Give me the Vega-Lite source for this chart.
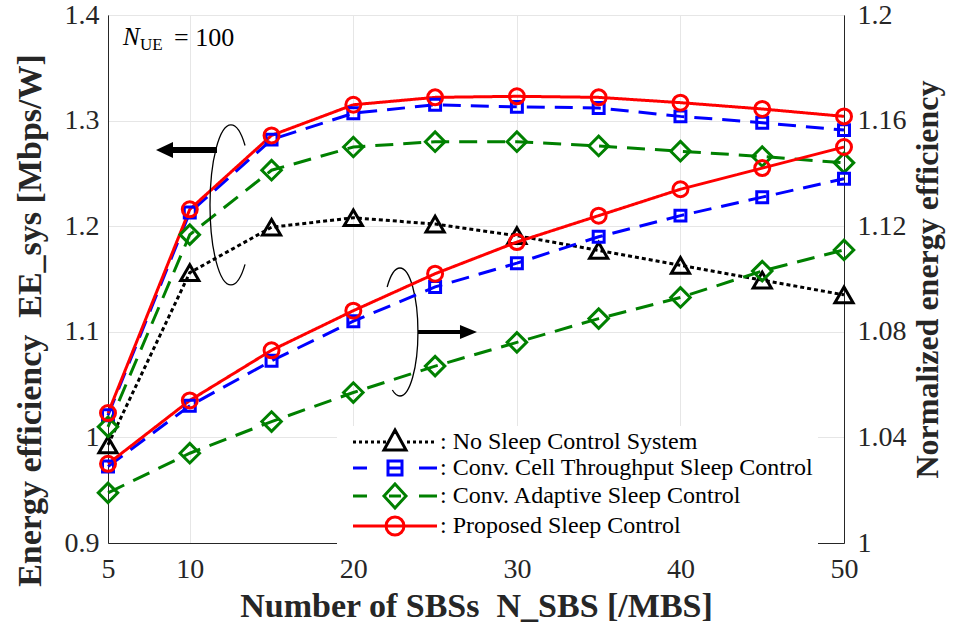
{
  "$schema": "https://vega.github.io/schema/vega-lite/v6.json",
  "width": 736,
  "height": 528,
  "autosize": "none",
  "padding": {"left": 108, "top": 15, "right": 111, "bottom": 97},
  "background": "white",
  "config": {
    "font": "Liberation Serif",
    "view": {"stroke": "#262626", "strokeWidth": 1},
    "axis": {
      "labelFont": "Liberation Serif", "labelFontSize": 28, "labelColor": "#262626",
      "titleFont": "Liberation Serif", "titleFontSize": 32, "titleFontWeight": "bold", "titleColor": "#262626",
      "domainColor": "#262626", "tickColor": "#262626", "gridColor": "#e6e6e6", "labelFlush": false, "ticks": false
    }
  },
  "data": {"values": [
    {"x": 5, "series": "No Sleep Control System", "ee": 0.993, "ne": null},
    {"x": 10, "series": "No Sleep Control System", "ee": 1.156, "ne": null},
    {"x": 15, "series": "No Sleep Control System", "ee": 1.199, "ne": null},
    {"x": 20, "series": "No Sleep Control System", "ee": 1.208, "ne": null},
    {"x": 25, "series": "No Sleep Control System", "ee": 1.202, "ne": null},
    {"x": 30, "series": "No Sleep Control System", "ee": 1.191, "ne": null},
    {"x": 35, "series": "No Sleep Control System", "ee": 1.177, "ne": null},
    {"x": 40, "series": "No Sleep Control System", "ee": 1.163, "ne": null},
    {"x": 45, "series": "No Sleep Control System", "ee": 1.149, "ne": null},
    {"x": 50, "series": "No Sleep Control System", "ee": 1.135, "ne": null},
    {"x": 5, "series": "Conv. Cell Throughput Sleep Control", "ee": 1.021, "ne": 1.029},
    {"x": 10, "series": "Conv. Cell Throughput Sleep Control", "ee": 1.213, "ne": 1.052},
    {"x": 15, "series": "Conv. Cell Throughput Sleep Control", "ee": 1.282, "ne": 1.069},
    {"x": 20, "series": "Conv. Cell Throughput Sleep Control", "ee": 1.307, "ne": 1.084},
    {"x": 25, "series": "Conv. Cell Throughput Sleep Control", "ee": 1.315, "ne": 1.097},
    {"x": 30, "series": "Conv. Cell Throughput Sleep Control", "ee": 1.313, "ne": 1.106},
    {"x": 35, "series": "Conv. Cell Throughput Sleep Control", "ee": 1.312, "ne": 1.116},
    {"x": 40, "series": "Conv. Cell Throughput Sleep Control", "ee": 1.304, "ne": 1.124},
    {"x": 45, "series": "Conv. Cell Throughput Sleep Control", "ee": 1.298, "ne": 1.131},
    {"x": 50, "series": "Conv. Cell Throughput Sleep Control", "ee": 1.291, "ne": 1.138},
    {"x": 5, "series": "Conv. Adaptive Sleep Control", "ee": 1.010, "ne": 1.019},
    {"x": 10, "series": "Conv. Adaptive Sleep Control", "ee": 1.192, "ne": 1.034},
    {"x": 15, "series": "Conv. Adaptive Sleep Control", "ee": 1.253, "ne": 1.046},
    {"x": 20, "series": "Conv. Adaptive Sleep Control", "ee": 1.275, "ne": 1.057},
    {"x": 25, "series": "Conv. Adaptive Sleep Control", "ee": 1.280, "ne": 1.067},
    {"x": 30, "series": "Conv. Adaptive Sleep Control", "ee": 1.280, "ne": 1.076},
    {"x": 35, "series": "Conv. Adaptive Sleep Control", "ee": 1.276, "ne": 1.085},
    {"x": 40, "series": "Conv. Adaptive Sleep Control", "ee": 1.271, "ne": 1.093},
    {"x": 45, "series": "Conv. Adaptive Sleep Control", "ee": 1.266, "ne": 1.103},
    {"x": 50, "series": "Conv. Adaptive Sleep Control", "ee": 1.260, "ne": 1.111},
    {"x": 5, "series": "Proposed Sleep Control", "ee": 1.023, "ne": 1.030},
    {"x": 10, "series": "Proposed Sleep Control", "ee": 1.216, "ne": 1.054},
    {"x": 15, "series": "Proposed Sleep Control", "ee": 1.286, "ne": 1.073},
    {"x": 20, "series": "Proposed Sleep Control", "ee": 1.315, "ne": 1.088},
    {"x": 25, "series": "Proposed Sleep Control", "ee": 1.322, "ne": 1.102},
    {"x": 30, "series": "Proposed Sleep Control", "ee": 1.323, "ne": 1.114},
    {"x": 35, "series": "Proposed Sleep Control", "ee": 1.322, "ne": 1.124},
    {"x": 40, "series": "Proposed Sleep Control", "ee": 1.317, "ne": 1.134},
    {"x": 45, "series": "Proposed Sleep Control", "ee": 1.311, "ne": 1.142},
    {"x": 50, "series": "Proposed Sleep Control", "ee": 1.304, "ne": 1.150}
  ]},
  "layer": [
    {
      "transform": [{"filter": "datum.x < 0"}],
      "mark": {"type": "point", "filled": false, "size": 4, "strokeWidth": 3, "opacity": 1},
      "encoding": {
        "color": {"field": "series", "type": "nominal",
                  "scale": {"domain": ["No Sleep Control System", "Conv. Cell Throughput Sleep Control", "Conv. Adaptive Sleep Control", "Proposed Sleep Control"], "range": ["#000000", "#0000ff", "#008000", "#ff0000"]},
                  "legend": {"orient": "none", "legendX": 229, "legendY": 411, "title": null, "fillColor": "white", "padding": 4, "rowPadding": -3, "labelFont": "Liberation Serif", "labelFontSize": 24, "labelColor": "black", "labelOffset": 75, "labelLimit": 700, "symbolSize": 4, "symbolStrokeWidth": 3, "labelExpr": "': ' + datum.label"}},
        "shape": {"field": "series", "type": "nominal",
                  "scale": {"domain": ["No Sleep Control System", "Conv. Cell Throughput Sleep Control", "Conv. Adaptive Sleep Control", "Proposed Sleep Control"],
                            "range": ["M0,0L3,0M6,0L9,0M12,0L15,0M18,0L21,0M24,0L27,0M30,0L33,0M54,0L57,0M60,0L63,0M66,0L69,0M72,0L75,0M78,0L81,0M42,-12L53,8L31,8Z",
                                      "M0,0L14,0M66,0L84,0M35,-7L49,-7L49,7L35,7ZM35,0L49,0",
                                      "M0,0L14,0M66,0L84,0M42,-12L53,0L42,12L31,0ZM36,0L48,0",
                                      "M0,0L84,0M33,0C33,-4.97,37.03,-9,42,-9C46.97,-9,51,-4.97,51,0C51,4.97,46.97,9,42,9C37.03,9,33,4.97,33,0Z"]},
                  "legend": {"orient": "none", "legendX": 229, "legendY": 411, "title": null, "fillColor": "white", "padding": 4, "rowPadding": -3, "labelFont": "Liberation Serif", "labelFontSize": 24, "labelColor": "black", "labelOffset": 75, "labelLimit": 700, "symbolSize": 4, "symbolStrokeWidth": 3, "labelExpr": "': ' + datum.label"}}
      }
    },
    {
      "layer": [
        {"mark": {"type": "line", "strokeWidth": 3},
         "encoding": {
           "x": {"field": "x", "type": "quantitative", "scale": {"domain": [5, 50], "nice": false, "zero": false},
                 "axis": {"values": [5, 10, 20, 30, 40, 50], "grid": true, "labelPadding": 12, "title": "Number of SBSs\u00a0\u00a0N_SBS [/MBS]", "titleFontSize": 34, "titlePadding": 6}},
           "y": {"field": "ee", "type": "quantitative", "scale": {"domain": [0.9, 1.4], "nice": false, "zero": false},
                 "axis": {"orient": "left", "values": [0.9, 1, 1.1, 1.2, 1.3, 1.4], "format": ".1~f", "grid": true, "labelPadding": 9, "title": "Energy efficiency\u00a0\u00a0EE_sys [Mbps/W]", "titleFontSize": 34, "titleY": 305, "titlePadding": 17}},
           "color": {"field": "series", "type": "nominal", "legend": null},
           "strokeDash": {"field": "series", "type": "nominal", "scale": {"domain": ["Proposed Sleep Control", "Conv. Adaptive Sleep Control", "Conv. Cell Throughput Sleep Control", "No Sleep Control System"], "range": [[1, 0], [18, 10], [18, 10], [4, 3]]}, "legend": null}
         }},
        {"transform": [{"filter": "datum.series == 'No Sleep Control System'"}], "mark": {"type": "point", "shape": "triangle-up", "size": 330, "filled": false, "strokeWidth": 3, "opacity": 1},
         "encoding": {"x": {"field": "x", "type": "quantitative"}, "y": {"field": "ee", "type": "quantitative"}, "color": {"field": "series", "type": "nominal", "legend": null}}},
        {"transform": [{"filter": "datum.series == 'Conv. Cell Throughput Sleep Control'"}], "mark": {"type": "point", "shape": "square", "size": 120, "filled": false, "strokeWidth": 3, "opacity": 1},
         "encoding": {"x": {"field": "x", "type": "quantitative"}, "y": {"field": "ee", "type": "quantitative"}, "color": {"field": "series", "type": "nominal", "legend": null}}},
        {"transform": [{"filter": "datum.series == 'Conv. Adaptive Sleep Control'"}], "mark": {"type": "point", "shape": "diamond", "size": 380, "filled": false, "strokeWidth": 3, "opacity": 1},
         "encoding": {"x": {"field": "x", "type": "quantitative"}, "y": {"field": "ee", "type": "quantitative"}, "color": {"field": "series", "type": "nominal", "legend": null}}},
        {"transform": [{"filter": "datum.series == 'Proposed Sleep Control'"}], "mark": {"type": "point", "shape": "circle", "size": 225, "filled": false, "strokeWidth": 3, "opacity": 1},
         "encoding": {"x": {"field": "x", "type": "quantitative"}, "y": {"field": "ee", "type": "quantitative"}, "color": {"field": "series", "type": "nominal", "legend": null}}},
        {"data": {"values": [{}]}, "mark": {"type": "point", "shape": "M14.05,-59.45C10.2,-72.67,5.19,-80,0,-80C-11.6,-80,-21,-44.2,-21,0C-21,44.2,-11.6,80,0,80C5.19,80,10.2,72.67,14.05,59.45", "size": 4, "filled": false, "stroke": "black", "strokeWidth": 1.3, "opacity": 1},
         "encoding": {"x": {"datum": 12.52, "type": "quantitative"}, "y": {"datum": 1.2201, "type": "quantitative"}}},
        {"data": {"values": [{}]}, "mark": {"type": "point", "shape": "M-12.8,-45C-9.42,-57.15,-4.81,-64,0,-64C9.94,-64,18,-35.35,18,0C18,35.35,9.94,64,0,64C-2.63,64,-5.22,61.95,-7.6,58", "size": 4, "filled": false, "stroke": "black", "strokeWidth": 1.3, "opacity": 1},
         "encoding": {"x": {"datum": 22.85, "type": "quantitative"}, "y": {"datum": 1.0998, "type": "quantitative"}}},
        {"data": {"values": [{}]}, "mark": {"type": "point", "shape": "M0,0L17,-8L17,-3L61,-3L61,3L17,3L17,8Z", "size": 4, "filled": true, "fill": "black", "strokeWidth": 0, "opacity": 1},
         "encoding": {"x": {"datum": 7.935, "type": "quantitative"}, "y": {"datum": 1.2722, "type": "quantitative"}}},
        {"data": {"values": [{}]}, "mark": {"type": "point", "shape": "M0,0L-17,-7L-17,-2L-59,-2L-59,2L-17,2L-17,7Z", "size": 4, "filled": true, "fill": "black", "strokeWidth": 0, "opacity": 1},
         "encoding": {"x": {"datum": 27.56, "type": "quantitative"}, "y": {"datum": 1.0998, "type": "quantitative"}}},
        {"data": {"values": [{}]}, "mark": {"type": "text", "text": "N", "font": "Liberation Serif", "fontStyle": "italic", "fontSize": 25, "align": "left", "baseline": "alphabetic", "dx": 15, "dy": 30, "color": "black"},
         "encoding": {"x": {"datum": 5, "type": "quantitative"}, "y": {"datum": 1.4, "type": "quantitative"}}},
        {"data": {"values": [{}]}, "mark": {"type": "text", "text": "UE", "font": "Liberation Serif", "fontSize": 17, "align": "left", "baseline": "alphabetic", "dx": 32, "dy": 35, "color": "black"},
         "encoding": {"x": {"datum": 5, "type": "quantitative"}, "y": {"datum": 1.4, "type": "quantitative"}}},
        {"data": {"values": [{}]}, "mark": {"type": "text", "text": "= 100", "font": "Liberation Serif", "fontSize": 26, "align": "left", "baseline": "alphabetic", "dx": 66, "dy": 31, "color": "black"},
         "encoding": {"x": {"datum": 5, "type": "quantitative"}, "y": {"datum": 1.4, "type": "quantitative"}}}
      ]
    },
    {
      "transform": [{"filter": "isValid(datum.ne)"}],
      "encoding": {
        "x": {"field": "x", "type": "quantitative", "scale": {"domain": [5, 50], "nice": false, "zero": false},
              "axis": {"values": [5, 10, 20, 30, 40, 50], "grid": true, "labelPadding": 12, "title": "Number of SBSs\u00a0\u00a0N_SBS [/MBS]", "titleFontSize": 34, "titlePadding": 6}},
        "y": {"field": "ne", "type": "quantitative", "scale": {"domain": [1, 1.2], "nice": false, "zero": false},
              "axis": {"orient": "right", "values": [1, 1.04, 1.08, 1.12, 1.16, 1.2], "format": ".2~f", "grid": false, "labelPadding": 13, "title": "Normalized energy efficiency", "titleAngle": 270, "titleBaseline": "top", "titlePadding": 6}}
      },
      "layer": [
        {"mark": {"type": "line", "strokeWidth": 3},
         "encoding": {
           "color": {"field": "series", "type": "nominal", "legend": null},
           "strokeDash": {"field": "series", "type": "nominal", "legend": null}
         }},
        {"transform": [{"filter": "datum.series == 'Conv. Cell Throughput Sleep Control'"}], "mark": {"type": "point", "shape": "square", "size": 120, "filled": false, "strokeWidth": 3, "opacity": 1},
         "encoding": {"color": {"field": "series", "type": "nominal", "legend": null}}},
        {"transform": [{"filter": "datum.series == 'Conv. Adaptive Sleep Control'"}], "mark": {"type": "point", "shape": "diamond", "size": 380, "filled": false, "strokeWidth": 3, "opacity": 1},
         "encoding": {"color": {"field": "series", "type": "nominal", "legend": null}}},
        {"transform": [{"filter": "datum.series == 'Proposed Sleep Control'"}], "mark": {"type": "point", "shape": "circle", "size": 225, "filled": false, "strokeWidth": 3, "opacity": 1},
         "encoding": {"color": {"field": "series", "type": "nominal", "legend": null}}}
      ]
    }
  ],
  "resolve": {"scale": {"y": "independent"}}
}
